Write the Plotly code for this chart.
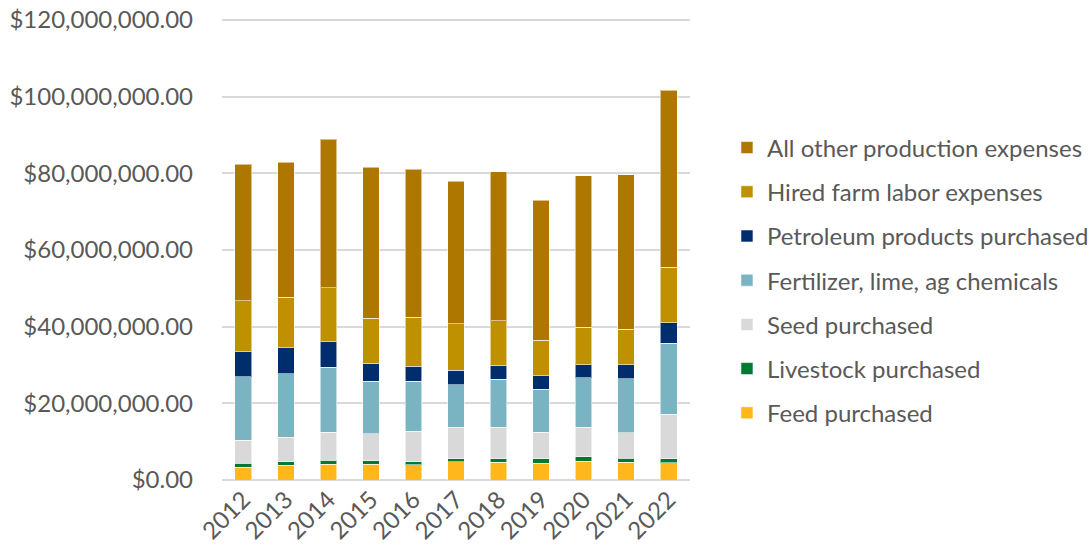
import plotly.graph_objects as go

years = ["2012", "2013", "2014", "2015", "2016", "2017", "2018", "2019", "2020", "2021", "2022"]

# values in millions of dollars
feed = [3.39, 3.83, 4.17, 4.17, 4.0, 4.7, 4.6, 4.4, 4.9, 4.6, 4.5]
livestock = [1.04, 0.87, 1.03, 0.83, 0.8, 0.8, 1.0, 1.1, 1.1, 1.1, 1.0]
seed = [6.0, 6.43, 7.2, 7.0, 7.9, 8.3, 8.1, 6.9, 7.7, 6.6, 11.7]
fertilizer = [16.53, 16.57, 17.0, 13.8, 13.0, 11.1, 12.6, 11.3, 13.0, 14.1, 18.4]
petroleum = [6.44, 6.8, 6.7, 4.7, 3.9, 3.7, 3.6, 3.5, 3.4, 3.7, 5.4]
hired_labor = [13.4, 13.2, 14.0, 11.7, 12.8, 12.1, 11.6, 9.3, 9.8, 9.2, 14.5]
all_other = [35.5, 35.1, 38.8, 39.4, 38.7, 37.2, 38.9, 36.5, 39.4, 40.3, 46.2]

series = [
    ("Feed purchased", feed, "#FFB71C"),
    ("Livestock purchased", livestock, "#007A33"),
    ("Seed purchased", seed, "#D9D9D9"),
    ("Fertilizer, lime, ag chemicals", fertilizer, "#7AB4C3"),
    ("Petroleum products purchased", petroleum, "#002E6D"),
    ("Hired farm labor expenses", hired_labor, "#BF9000"),
    ("All other production expenses", all_other, "#AD7700"),
]

fig = go.Figure()
n = len(series)
for i, (name, vals, color) in enumerate(series):
    fig.add_trace(go.Bar(
        x=years,
        y=[v * 1e6 for v in vals],
        name=name,
        legendgroup=f"g{i}",
        legendrank=100 + (n - i),
        marker=dict(color=color, line=dict(color="rgba(255,255,255,0.55)", width=1)),
    ))

font_family = "Lato, 'Open Sans', sans-serif"
fig.update_layout(
    barmode="stack",
    bargap=0.61,
    width=1130,
    height=553,
    margin=dict(l=222, r=440, t=16, b=73),
    plot_bgcolor="white",
    paper_bgcolor="white",
    font=dict(family=font_family, size=24, color="#595959"),
    legend=dict(
        x=1.079, y=0.43, xanchor="left", yanchor="middle",
        traceorder="grouped",
        tracegroupgap=10,
        font=dict(size=24, color="#595959"),
        bgcolor="rgba(0,0,0,0)",
    ),
    showlegend=True,
)
fig.update_yaxes(
    range=[0, 121e6],
    tickvals=[0, 20e6, 40e6, 60e6, 80e6, 100e6, 120e6],
    tickformat="$,.2f",
    showgrid=True,
    gridcolor="#D9D9D9",
    gridwidth=1.5,
    zeroline=True,
    zerolinecolor="#D9D9D9",
    zerolinewidth=1.5,
    showline=False,
    automargin=False,
    ticklabeloverflow="allow",
    ticklabelstandoff=28,
    tickfont=dict(size=24, color="#595959"),
)
fig.update_xaxes(
    tickangle=-45,
    showline=False,
    showgrid=False,
    automargin=False,
    ticklabeloverflow="allow",
    tickfont=dict(size=24, color="#595959"),
)

fig.write_html(
    "out.html",
    config={"displayModeBar": False},
    post_script="document.body.style.margin='0';document.body.style.overflow='hidden';",
)
